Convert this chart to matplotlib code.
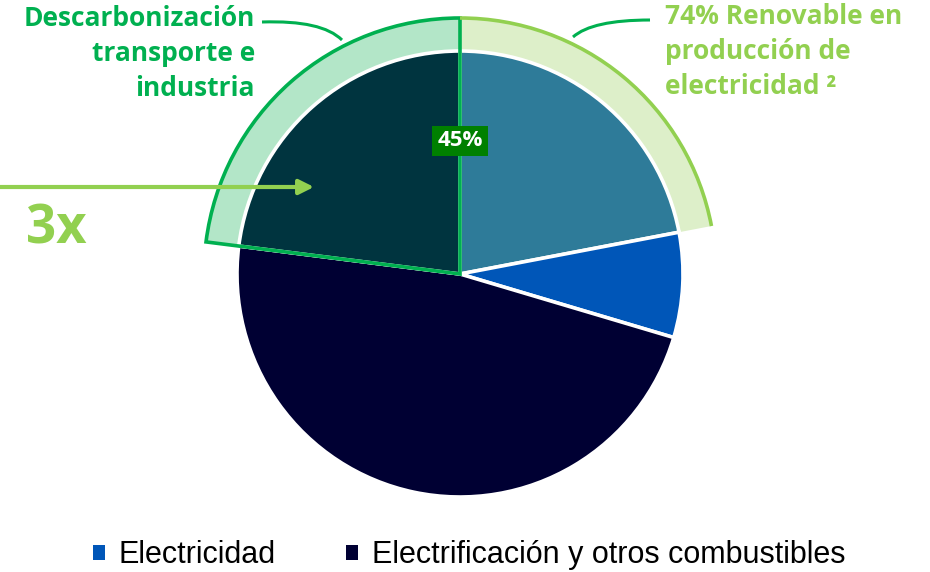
import numpy as np
import matplotlib.pyplot as plt
from matplotlib.patches import Wedge, Arc, Patch, PathPatch
from matplotlib.path import Path

# slice data (percent of final energy), clockwise from 12 o'clock
slice_names  = ["Renovable electricidad", "Electricidad",
                "Electrificación y otros combustibles", "Descarbonización"]
slice_values = [22.0, 7.6, 47.4, 23.0]
slice_colors = ["#2E7B99", "#0056B8", "#000033", "#00343F"]

legend_labels = ["Electricidad", "Electrificación y otros combustibles"]
legend_colors = ["#0056B8", "#000033"]

highlight_share = "45%"
growth_label    = "3x"
left_note  = "Descarbonizaci\u00f3n\ntransporte e\nindustria"
right_note = "74% Renovable en\nproducci\u00f3n de\nelectricidad \u00b2"

DARK_GREEN  = "#00B050"
LIME        = "#92D050"
TITLE_FONT  = ["Open Sans", "DejaVu Sans"]

W, H = 930, 572
fig = plt.figure(figsize=(W / 100, H / 100), dpi=100)
ax = fig.add_axes([0, 0, 1, 1])

cx, cy = 460, 572 - 274
r_pie, r_ring = 223, 256

# angle where the "descarbonización" slice starts (counted clockwise from top)
start = 90
ends = start - np.cumsum(slice_values) * 3.6
left_a1 = ends[2] + 360      # boundary navy / dark teal
right_a2 = ends[0]           # boundary teal / blue

# outer highlight rings
ax.add_patch(Wedge((cx, cy), r_ring, 90, left_a1, facecolor="#B3E6C8",
                   edgecolor="none", zorder=1))
ax.add_patch(Wedge((cx, cy), r_ring, right_a2, 90, facecolor="#DDEFC9",
                   edgecolor="none", zorder=1))

wedges, _ = ax.pie(slice_values, colors=slice_colors, startangle=90,
                   counterclock=False, radius=r_pie, center=(cx, cy),
                   wedgeprops=dict(edgecolor="white", linewidth=2.6),
                   frame=True)
for w in wedges:
    w.set_zorder(2)

# outlines on top
ax.add_patch(Wedge((cx, cy), r_ring, 90, left_a1, facecolor="none",
                   edgecolor=DARK_GREEN, linewidth=2.6, zorder=3))
ax.add_patch(Arc((cx, cy), 2 * r_ring, 2 * r_ring, theta1=right_a2, theta2=90,
                 color=LIME, linewidth=2.6, zorder=3))

# connector curves
def curve(p0, c, p1, color):
    path = Path([p0, c, p1], [Path.MOVETO, Path.CURVE3, Path.CURVE3])
    ax.add_patch(PathPatch(path, facecolor="none", edgecolor=color,
                           linewidth=2.2, zorder=3))

curve((262, H - 22), (322, H - 20), (342, H - 40), DARK_GREEN)
curve((650, H - 20), (592, H - 20), (573, H - 37), DARK_GREEN)

ax.text(255, H - 5, left_note, ha="right", va="top", fontsize=19,
        fontweight="bold", color=DARK_GREEN, family=TITLE_FONT,
        linespacing=1.37, zorder=4)
ax.text(665, H - 3, right_note, ha="left", va="top", fontsize=19,
        fontweight="bold", color=LIME, family=TITLE_FONT,
        linespacing=1.37, zorder=4)

# 45% badge
ax.text(cx, H - 141, highlight_share, ha="center", va="center", fontsize=16,
        fontweight="bold", color="white", family=TITLE_FONT, zorder=5,
        bbox=dict(boxstyle="square,pad=0.22", facecolor="#008000",
                  edgecolor="none"))

# growth arrow
ax.annotate("", xy=(314, H - 187), xytext=(0, H - 187),
            arrowprops=dict(arrowstyle="-|>", color=LIME, lw=3,
                            mutation_scale=22, shrinkA=0, shrinkB=0),
            zorder=5)
ax.text(56, H - 230, growth_label, ha="center", va="center", fontsize=38,
        fontweight="bold", color=LIME, family=TITLE_FONT, zorder=5)

handles = [Patch(facecolor=c, edgecolor="none") for c in legend_colors]
ax.legend(handles, legend_labels, loc="lower center",
          bbox_to_anchor=(469 / W, -0.045), ncol=2, frameon=False,
          prop=dict(family="Liberation Sans", size=22),
          handlelength=0.4, handleheight=0.4, handletextpad=0.45,
          columnspacing=2.3)

ax.set_xlim(0, W)
ax.set_ylim(0, H)
ax.set_aspect("equal")
ax.axis("off")

fig.savefig("out.png", dpi=100)
